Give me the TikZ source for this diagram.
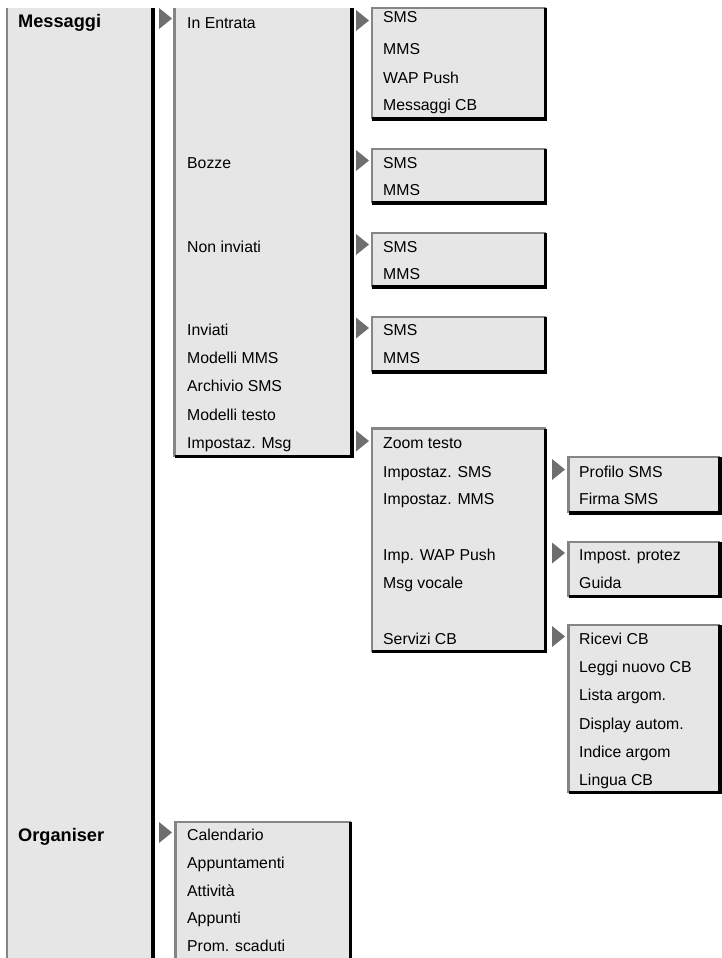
\documentclass[tikz,border=0pt]{standalone}
\usepackage{fontspec}
\setmainfont{Liberation Sans}
\definecolor{boxfill}{HTML}{E6E6E6}
\definecolor{edgegray}{HTML}{858585}
\definecolor{arrgray}{HTML}{6E6E6E}
\newcommand\mnuitemfont{\fontsize{15.8}{18}\selectfont}
\newcommand\mnuheadfont{\fontsize{18.2}{21}\selectfont\bfseries}
% box with top border: L T R B
\newcommand\mnuboxT[4]{%
  \fill[boxfill] (#1,#2) rectangle (#3,#4);
  \draw[grayedge] (#1,#4) -- (#1,#2) -- (#3,#2);
  \draw[blackedge] (#3,#2) -- (#3,#4) -- (#1,#4);}
% box open at the top
\newcommand\mnuboxO[4]{%
  \fill[boxfill] (#1,#2) rectangle (#3,#4);
  \draw[grayedge] (#1,#4) -- (#1,#2);
  \draw[blackedge] (#3,#2) -- (#3,#4) -- (#1,#4);}
% marker triangle: x, centre y
\newcommand\mnuarr[2]{\fill[arrgray] (#1,#2-10.5) -- (#1+13,#2) -- (#1,#2+10.5) -- cycle;}
\begin{document}
\begin{tikzpicture}[x=1pt,y=-1pt,
  grayedge/.style={draw=edgegray,line width=2.1pt},
  blackedge/.style={draw=black,line width=3.5pt,line join=miter},
  item/.style={anchor=base west,inner sep=0pt,font=\mnuitemfont},
  head/.style={anchor=base west,inner sep=0pt,font=\mnuheadfont}]
\useasboundingbox (0,0) rectangle (722,958);
\clip (0,0) rectangle (722,958);
\fill[white] (0,0) rectangle (722,958);

% column 1
\mnuboxO{7}{8}{153}{975}
% column 2 (Messaggi)
\mnuboxO{174.5}{8}{352}{456.5}
% column 3 boxes
\mnuboxT{372}{8}{545.5}{119}
\mnuboxT{372}{149}{545.5}{203}
\mnuboxT{372}{233}{545.5}{287}
\mnuboxT{372}{317}{545.5}{372}
\mnuboxT{372}{428.5}{545.5}{651.7}
% column 4 boxes
\mnuboxT{568.5}{456.7}{720}{513}
\mnuboxT{568.5}{541.7}{720}{596.7}
\mnuboxT{568.5}{625}{720}{792.7}
% Organiser submenu
\mnuboxT{175.5}{821.7}{350.5}{975}

% markers
\mnuarr{159}{18.5}
\mnuarr{159}{832.5}
\mnuarr{356}{20.5}
\mnuarr{356}{160.5}
\mnuarr{356}{244.5}
\mnuarr{356}{328}
\mnuarr{356}{441}
\mnuarr{552}{469.5}
\mnuarr{552}{553}
\mnuarr{552}{636.5}

% column 1 texts
\node[head] (msg) at (18,28) {Messaggi};
\node[head] (org) at (18,841.6) {Organiser};

% column 2 texts
\node[item] (inent) at (187,28.4) {In Entrata};
\node[item] (bozze) at (187,168.2) {Bozze};
\node[item] (noninv) at (187,252.4) {Non inviati};
\node[item] (inviati) at (187,335.7) {Inviati};
\node[item] (modmms) at (187,363.7) {Modelli MMS};
\node[item] (archsms) at (187,391.7) {Archivio SMS};
\node[item] (modtxt) at (187,420.7) {Modelli testo};
\node[item] (impmsg) at (187,448.2) {Impostaz. Msg};

% column 3 texts
\node[item] (ie1) at (383,22.4) {SMS};
\node[item] (ie2) at (383,54.4) {MMS};
\node[item] (ie3) at (383,83) {WAP Push};
\node[item] (ie4) at (383,110.7) {Messaggi CB};
\node[item] (bz1) at (383,168.2) {SMS};
\node[item] (bz2) at (383,195.7) {MMS};
\node[item] (ni1) at (383,252.4) {SMS};
\node[item] (ni2) at (383,279.7) {MMS};
\node[item] (iv1) at (383,335.7) {SMS};
\node[item] (iv2) at (383,363.7) {MMS};
\node[item] (im1) at (383,448.7) {Zoom testo};
\node[item] (im2) at (383,477.2) {Impostaz. SMS};
\node[item] (im3) at (383,504.7) {Impostaz. MMS};
\node[item] (im4) at (383,560.7) {Imp. WAP Push};
\node[item] (im5) at (383,588.7) {Msg vocale};
\node[item] (im6) at (383,644.2) {Servizi CB};

% column 4 texts
\node[item] (ps1) at (579,477.2) {Profilo SMS};
\node[item] (ps2) at (579,504.7) {Firma SMS};
\node[item] (wp1) at (579,560.7) {Impost. protez};
\node[item] (wp2) at (579,588.7) {Guida};
\node[item] (cb1) at (579,644) {Ricevi CB};
\node[item] (cb2) at (579,672.4) {Leggi nuovo CB};
\node[item] (cb3) at (579,700.7) {Lista argom.};
\node[item] (cb4) at (579,729.4) {Display autom.};
\node[item] (cb5) at (579,757.4) {Indice argom};
\node[item] (cb6) at (579,785.7) {Lingua CB};

% Organiser submenu texts
\node[item] (og1) at (187,840.7) {Calendario};
\node[item] (og2) at (187,868.7) {Appuntamenti};
\node[item] (og3) at (187,896.7) {Attività};
\node[item] (og4) at (187,923.7) {Appunti};
\node[item] (og5) at (187,951.7) {Prom. scaduti};
\end{tikzpicture}
\end{document}
